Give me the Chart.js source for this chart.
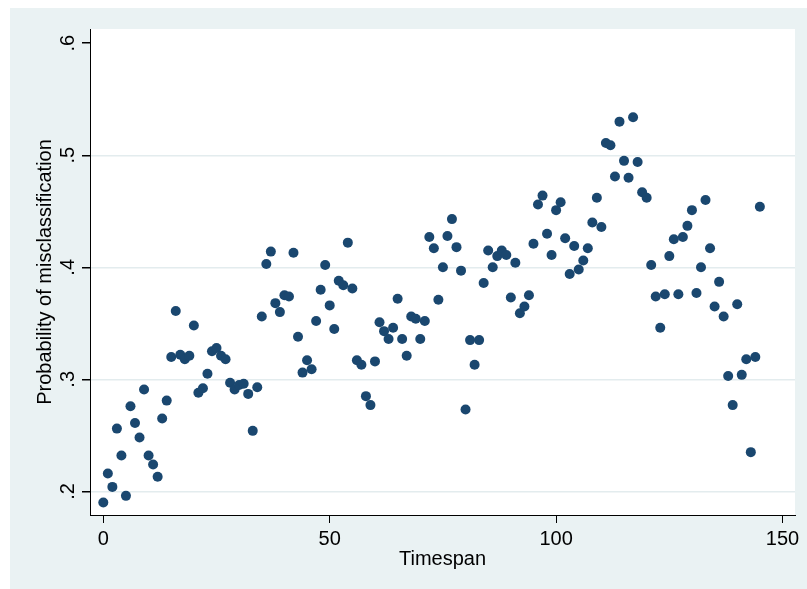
<!DOCTYPE html>
<html lang="en">
<head>
  <meta charset="UTF-8">
  <title>Probability of misclassification by timespan</title>
  <script src="https://cdn.jsdelivr.net/npm/chart.js"></script>
  <style>
    body { margin: 0; background: #fff; }
    #wrap { width: 807px; height: 589px; }
  </style>
</head>
<body>
  <div id="wrap"><canvas id="scatter" width="807" height="589"></canvas></div>

  <script>
    // data
    const timespan = [
      0, 1, 2, 3, 4, 5, 6, 7, 8, 9,
      10, 11, 12, 13, 14, 15, 16, 17, 18, 19,
      20, 21, 22, 23, 24, 25, 26, 27, 28, 29,
      30, 31, 32, 33, 34, 35, 36, 37, 38, 39,
      40, 41, 42, 43, 44, 45, 46, 47, 48, 49,
      50, 51, 52, 53, 54, 55, 56, 57, 58, 59,
      60, 61, 62, 63, 64, 65, 66, 67, 68, 69,
      70, 71, 72, 73, 74, 75, 76, 77, 78, 79,
      80, 81, 82, 83, 84, 85, 86, 87, 88, 89,
      90, 91, 92, 93, 94, 95, 96, 97, 98, 99,
      100, 101, 102, 103, 104, 105, 106, 107, 108, 109,
      110, 111, 112, 113, 114, 115, 116, 117, 118, 119,
      120, 121, 122, 123, 124, 125, 126, 127, 128, 129,
      130, 131, 132, 133, 134, 135, 136, 137, 138, 139,
      140, 141, 142, 143, 144, 145
    ];
    const misclass = [
      0.190, 0.216, 0.204, 0.256, 0.232, 0.196, 0.276, 0.261, 0.248, 0.291,
      0.232, 0.224, 0.213, 0.265, 0.281, 0.320, 0.361, 0.322, 0.318, 0.321,
      0.348, 0.288, 0.292, 0.305, 0.325, 0.328, 0.321, 0.318, 0.297, 0.291,
      0.295, 0.296, 0.287, 0.254, 0.293, 0.356, 0.403, 0.414, 0.368, 0.360,
      0.375, 0.374, 0.413, 0.338, 0.306, 0.317, 0.309, 0.352, 0.380, 0.402,
      0.366, 0.345, 0.388, 0.384, 0.422, 0.381, 0.317, 0.313, 0.285, 0.277,
      0.316, 0.351, 0.343, 0.336, 0.346, 0.372, 0.336, 0.321, 0.356, 0.354,
      0.336, 0.352, 0.427, 0.417, 0.371, 0.400, 0.428, 0.443, 0.418, 0.397,
      0.273, 0.335, 0.313, 0.335, 0.386, 0.415, 0.400, 0.410, 0.415, 0.411,
      0.373, 0.404, 0.359, 0.365, 0.375, 0.421, 0.456, 0.464, 0.430, 0.411,
      0.451, 0.458, 0.426, 0.394, 0.419, 0.398, 0.406, 0.417, 0.440, 0.462,
      0.436, 0.511, 0.509, 0.481, 0.530, 0.495, 0.480, 0.534, 0.494, 0.467,
      0.462, 0.402, 0.374, 0.346, 0.376, 0.410, 0.425, 0.376, 0.427, 0.437,
      0.451, 0.377, 0.400, 0.460, 0.417, 0.365, 0.387, 0.356, 0.303, 0.277,
      0.367, 0.304, 0.318, 0.235, 0.320, 0.454
    ];
    const xTicks = [0, 50, 100, 150];
    const yTicks = [0.2, 0.3, 0.4, 0.5, 0.6];
    const yTickLabels = ['.2', '.3', '.4', '.5', '.6'];

    const points = timespan.map((t, i) => ({ x: t, y: misclass[i] }));

    const FONT = '"Liberation Sans", Arial, sans-serif';
    Chart.defaults.font.family = FONT;
    Chart.defaults.color = '#000';

    // stata-like backdrop, rotated y labels and axis titles
    const stataLook = {
      id: 'stataLook',
      beforeDraw(chart) {
        const ctx = chart.ctx, a = chart.chartArea;
        ctx.save();
        ctx.fillStyle = '#fff';
        ctx.fillRect(0, 0, chart.width, chart.height);
        ctx.fillStyle = '#eaf2f3';
        ctx.fillRect(10, 8, chart.width - 10, chart.height - 8);
        ctx.fillStyle = '#fff';
        ctx.fillRect(a.left, a.top, a.right - a.left, a.bottom - a.top);
        ctx.restore();
      },
      afterDraw(chart) {
        const ctx = chart.ctx, a = chart.chartArea;
        const ys = chart.scales.y;
        ctx.save();
        ctx.fillStyle = '#000';
        ctx.font = '20px ' + FONT;
        ctx.textAlign = 'center';
        ctx.textBaseline = 'alphabetic';
        yTicks.forEach((v, i) => {
          ctx.save();
          ctx.translate(74, ys.getPixelForValue(v));
          ctx.rotate(-Math.PI / 2);
          ctx.fillText(yTickLabels[i], 0, 0);
          ctx.restore();
        });
        // y title
        ctx.save();
        ctx.translate(51, (a.top + a.bottom) / 2);
        ctx.rotate(-Math.PI / 2);
        ctx.fillText('Probability of misclassification', 0, 0);
        ctx.restore();
        // x title
        ctx.fillText('Timespan', (a.left + a.right) / 2, 565);
        ctx.restore();
      }
    };

    new Chart(document.getElementById('scatter'), {
      type: 'scatter',
      data: {
        datasets: [{
          label: 'misclassification',
          data: points,
          backgroundColor: '#1a476f',
          borderWidth: 0,
          pointRadius: 5,
          pointHoverRadius: 5
        }]
      },
      options: {
        responsive: false,
        animation: false,
        events: [],
        layout: { padding: { top: 29, right: 12, left: 0, bottom: 0 } },
        plugins: {
          legend: { display: false },
          tooltip: { enabled: false }
        },
        scales: {
          x: {
            type: 'linear',
            min: -2.94,
            max: 152.76,
            afterBuildTicks: s => { s.ticks = xTicks.map(v => ({ value: v })); },
            afterFit: s => { s.height = 74; },
            grid: { drawOnChartArea: false, tickColor: '#000', tickLength: 8, lineWidth: 1 },
            border: { color: '#000', width: 1 },
            ticks: { font: { size: 20 }, color: '#000', padding: 4, maxRotation: 0 }
          },
          y: {
            type: 'linear',
            min: 0.1789,
            max: 0.6127,
            afterBuildTicks: s => { s.ticks = yTicks.map(v => ({ value: v })); },
            afterFit: s => { s.width = 90; },
            grid: {
              color: c => (c.tick && c.tick.value === 0.6) ? 'rgba(0,0,0,0)' : '#e3ecee',
              tickColor: '#000',
              tickLength: 8,
              lineWidth: 1.5
            },
            border: { color: '#000', width: 1 },
            ticks: { display: false }
          }
        }
      },
      plugins: [stataLook]
    });
  </script>
</body>
</html>
